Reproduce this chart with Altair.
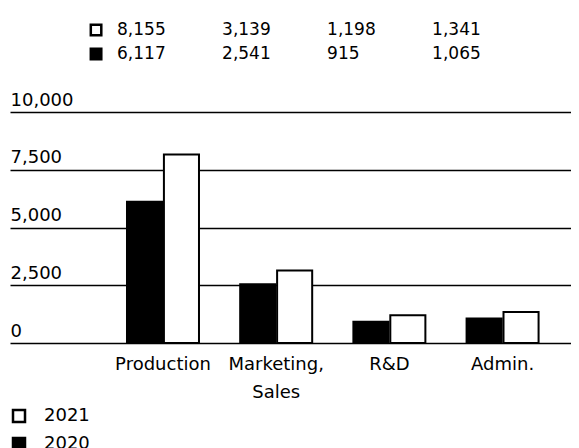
import altair as alt
import pandas as pd

categories = ["Production", "Marketing, Sales", "R&D", "Admin."]
values_2021 = [8155, 3139, 1198, 1341]
values_2020 = [6117, 2541, 915, 1065]
years = ["2021", "2020"]
bar_order = ["2020", "2021"]
y_ticks = [0, 2500, 5000, 7500, 10000]

rows = []
for c, v in zip(categories, values_2021):
    rows.append({"category": c, "year": "2021", "value": v})
for c, v in zip(categories, values_2020):
    rows.append({"category": c, "year": "2020", "value": v})
df = pd.DataFrame(rows)
sq_df = pd.DataFrame({"year": years})

FONT = "DejaVu Sans"
FS = 18
fill_scale = alt.Scale(domain=years, range=["white", "black"])

# ---- top value table ----
table_text = alt.Chart(df).mark_text(
    align="left", baseline="middle", fontSize=17, font=FONT, color="black"
).encode(
    x=alt.X("category:N", sort=categories,
            scale=alt.Scale(type="band", paddingInner=0, paddingOuter=0.671, align=0.387),
            axis=None),
    y=alt.Y("year:N", sort=years, axis=None),
    text=alt.Text("value:Q", format=",.0f"),
)
table_sq = alt.Chart(sq_df).mark_square(
    size=110, stroke="black", strokeWidth=2.5, opacity=1, xOffset=-21
).encode(
    x=alt.datum(categories[0], type="nominal"),
    y=alt.Y("year:N", sort=years, axis=None),
    fill=alt.Fill("year:N", scale=fill_scale, legend=None),
)
table = alt.layer(table_text, table_sq).properties(width=561, height=48)

# ---- bar chart ----
bars = alt.Chart(df).mark_bar(stroke="black", strokeWidth=2).encode(
    x=alt.X("category:N", sort=categories,
            scale=alt.Scale(paddingInner=0.364, paddingOuter=0.66, align=0.783),
            axis=alt.Axis(title=None, domain=False, ticks=False, labelPadding=12,
                          labelFontSize=FS, labelFont=FONT, labelColor="black",
                          labelAngle=0, labelBaseline="top", labelLineHeight=28,
                          labelExpr="datum.value == 'Marketing, Sales' ? ['Marketing,', 'Sales'] : datum.label")),
    xOffset=alt.XOffset("year:N", sort=bar_order, scale=alt.Scale(paddingInner=0.05)),
    y=alt.Y("value:Q", scale=alt.Scale(domain=[0, 10000]),
            axis=alt.Axis(title=None, values=y_ticks, format=",.0f", domain=False, ticks=False,
                          tickSize=0, labelAlign="left", labelBaseline="bottom",
                          labelPadding=0, labelOffset=-3, grid=True, gridColor="black",
                          gridWidth=1.6, gridOpacity=1, labelFontSize=FS, labelFont=FONT,
                          labelColor="black")),
    fill=alt.Fill("year:N", scale=fill_scale,
                  legend=alt.Legend(title=None, orient="none", legendX=0, legendY=295,
                                    direction="vertical", symbolType="square", symbolSize=144,
                                    symbolStrokeColor="black", symbolStrokeWidth=2.5,
                                    labelFontSize=FS, labelFont=FONT, labelColor="black",
                                    labelOffset=16, rowPadding=6)),
).properties(width=561, height=231)

chart = alt.vconcat(table, bars, spacing=25).resolve_scale(
    fill="independent", x="independent"
).resolve_legend(fill="independent").properties(
    padding={"left": 2, "top": 10, "right": 0, "bottom": 0}
).configure_view(stroke=None)

chart.save("out.html", embed_options={"renderer": "svg", "actions": False})
